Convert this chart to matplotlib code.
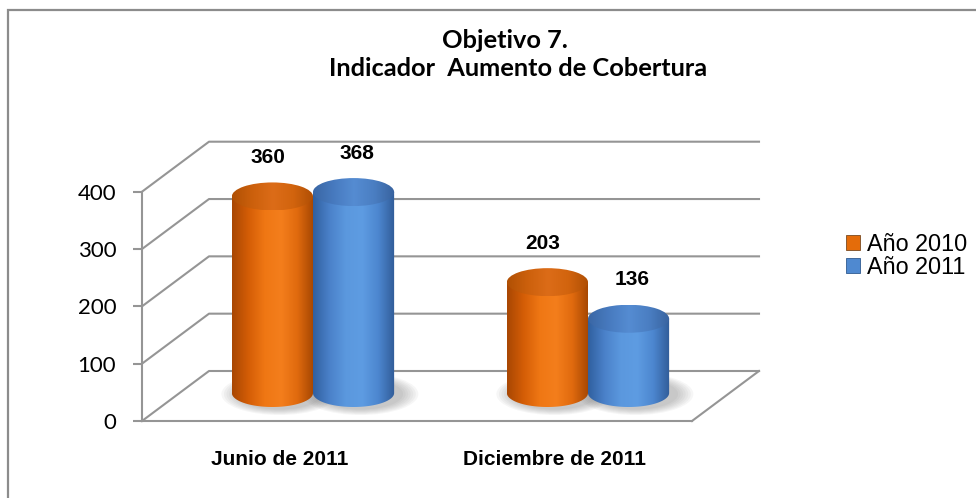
import numpy as np
import matplotlib.pyplot as plt
from matplotlib.patches import Ellipse, PathPatch, Patch, Rectangle
from matplotlib.path import Path
from matplotlib.colors import LinearSegmentedColormap

# datos
categorias = ["Junio de 2011", "Diciembre de 2011"]
series = ["Año 2010", "Año 2011"]
valores_2010 = [360, 203]
valores_2011 = [368, 136]
y_ticks = [0, 100, 200, 300, 400]

W, H = 976, 498
GRIS = "#959595"

# degradados de los cilindros (cuerpo / tapa)
cuerpo = {
    "Año 2010": ["#a84703", "#d45d06", "#ef7714", "#f47e1c", "#e06a0e", "#a44602"],
    "Año 2011": ["#30609f", "#4a81c9", "#5b98de", "#5e9ce2", "#4c86cf", "#315c98"],
}
tapa = {
    "Año 2010": ["#b05004", "#cc600c", "#dc6c18", "#d2640e", "#ae4e04"],
    "Año 2011": ["#3a66a4", "#477abf", "#558cd2", "#4a7ec2", "#38629e"],
}
color_leyenda = {"Año 2010": "#e46c0a", "Año 2011": "#4f89d0"}


def rect(left, top, right, bottom):
    return [left / W, 1 - bottom / H, (right - left) / W, (bottom - top) / H]


fig = plt.figure(figsize=(W / 100, H / 100), dpi=100)

# marco exterior
fig.add_artist(Rectangle((8 / W, -0.2), 1.2, 1.2 - 10 / H, transform=fig.transFigure,
                         fill=False, edgecolor="#8c8c8c", lw=1.6))

# plano frontal (eje de valores)
ax = fig.add_axes(rect(142, 191.7, 692, 421))
ax.set_xlim(0, 2)
ax.set_ylim(0, 400)
ax.patch.set_visible(False)
for s in ["top", "right"]:
    ax.spines[s].set_visible(False)
for s in ["left", "bottom"]:
    ax.spines[s].set_color(GRIS)
    ax.spines[s].set_linewidth(1.5)
ax.set_yticks(y_ticks)
ax.set_yticklabels([str(t) for t in y_ticks], family="Lato", fontsize=16)
ax.tick_params(axis="y", length=6.5, width=1.5, color=GRIS, pad=12)
ax.set_xticks([0.5, 1.5])
ax.set_xticklabels(categorias, family="Liberation Sans", fontweight="bold", fontsize=15)
ax.tick_params(axis="x", length=0, pad=21)

# profundidad (pared del fondo)
px_x = 550 / 2
px_y = 229.3 / 400
DX = 67 / px_x
DY = 50 / px_y
for t in y_ticks:
    ax.plot([0, DX, 2 + DX], [t, t + DY, t + DY], color=GRIS, lw=1.5, clip_on=False)
ax.plot([2, 2 + DX], [0, DY], color=GRIS, lw=1.5, clip_on=False)

# plano de los cilindros
s_c = 0.546
y_lo = -60
axc = fig.add_axes(rect(175.5, 393 - 400 * s_c, 725.5, 393 - y_lo * s_c))
axc.set_xlim(0, 2)
axc.set_ylim(y_lo, 400)
axc.set_autoscale_on(False)
axc.axis("off")

ancho = 0.295
a = ancho / 2
b = 14 / s_c
x = np.array([0.5, 1.5])

for k, (nombre, vals) in enumerate(zip(series, [valores_2010, valores_2011])):
    cm_c = LinearSegmentedColormap.from_list("c" + str(k), cuerpo[nombre])
    cm_t = LinearSegmentedColormap.from_list("t" + str(k), tapa[nombre])
    dx_lab = -4.5 if k == 0 else 3.5
    for xc, v in zip(x + (k - 0.5) * ancho, vals):
        # sombra
        for i in range(7):
            f = 1 + i * 0.06
            axc.add_patch(Ellipse((xc + 0.025, -2), 2 * a * f * 1.05, 2 * b * f * 1.1,
                                  color="#555555", alpha=0.05, lw=0, zorder=1 + k))
        # cuerpo
        th = np.linspace(np.pi, 2 * np.pi, 60)
        verts = [(xc - a, v), (xc - a, 0)] + list(zip(xc + a * np.cos(th), b * np.sin(th))) + \
                [(xc + a, v), (xc - a, v)]
        codes = [Path.MOVETO] + [Path.LINETO] * (len(verts) - 2) + [Path.CLOSEPOLY]
        pp = PathPatch(Path(verts, codes), facecolor="none", edgecolor="none",
                       transform=axc.transData)
        axc.add_patch(pp)
        grad = np.linspace(0, 1, 256).reshape(1, -1)
        im = axc.imshow(grad, cmap=cm_c, extent=[xc - a, xc + a, -b, v], aspect="auto",
                        interpolation="bicubic", zorder=3 + k)
        im.set_clip_path(pp)
        # tapa
        el = Ellipse((xc, v), 2 * a, 2 * b, facecolor="none", edgecolor="none",
                     transform=axc.transData)
        axc.add_patch(el)
        im2 = axc.imshow(grad, cmap=cm_t, extent=[xc - a, xc + a, v - b, v + b], aspect="auto",
                         interpolation="bicubic", zorder=3 + k)
        im2.set_clip_path(el)
        # etiqueta
        axc.annotate(str(v), (xc, v + b), xytext=(dx_lab * 0.72, 18), textcoords="offset points",
                     ha="center", va="center", family="Liberation Sans", fontweight="bold",
                     fontsize=15, zorder=10)

# leyenda
handles = [Patch(facecolor=color_leyenda[n], edgecolor="#7a4a20" if i == 0 else "#2f5a90", lw=0.6)
           for i, n in enumerate(series)]
fig.legend(handles, series, loc="center left", bbox_to_anchor=(846 / W, 1 - 256 / H),
           frameon=False, prop={"family": "Liberation Sans", "size": 16.8},
           handlelength=0.62, handleheight=0.62, handletextpad=0.3, labelspacing=0.0,
           borderpad=0, borderaxespad=0)

# titulo
fig.text(505 / W, 1 - 40 / H, "Objetivo 7.", ha="center", va="center",
         family="Lato", fontweight="bold", fontsize=18.3)
fig.text(518 / W, 1 - 68.5 / H, "Indicador  Aumento de Cobertura", ha="center", va="center",
         family="Lato", fontweight="bold", fontsize=18.3)

fig.savefig("out.png", dpi=100)
